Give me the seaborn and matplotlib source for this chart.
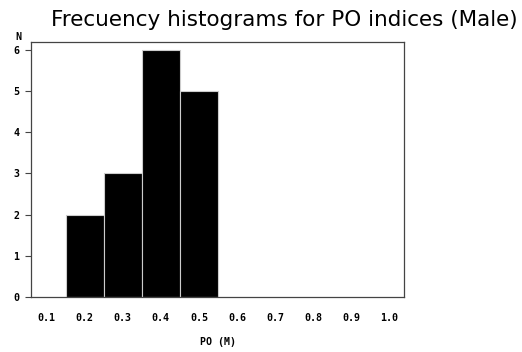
import matplotlib
matplotlib.use("Agg")
import matplotlib.pyplot as plt
import seaborn as sns

po_centers = [0.2, 0.3, 0.4, 0.5]
counts = [2, 3, 6, 5]
bin_edges = [0.15, 0.25, 0.35, 0.45, 0.55]
x_ticks = [0.1, 0.2, 0.3, 0.4, 0.5, 0.6, 0.7, 0.8, 0.9, 1.0]
y_ticks = [0, 1, 2, 3, 4, 5, 6]

sns.set_style("white")
fig = plt.figure(figsize=(5.22, 3.52), dpi=100)
ax = fig.add_axes([0.0588, 0.156, 0.716, 0.726])

sns.histplot(x=po_centers, weights=counts, bins=bin_edges, ax=ax,
             color="black", edgecolor="#cccccc", linewidth=0.8, alpha=1)

ax.set_xlim(0.058, 1.04)
ax.set_ylim(0, 6.2)
ax.set_xticks(x_ticks)
ax.set_xticklabels([f"{t:.1f}" for t in x_ticks], family="DejaVu Sans Mono",
                   fontsize=7.2, fontweight="bold", color="black")
ax.set_yticks(y_ticks)
ax.set_yticklabels([str(t) for t in y_ticks], family="DejaVu Sans Mono",
                   fontsize=7.2, fontweight="bold", color="black")
ax.tick_params(axis="x", length=0, pad=11.5)
ax.tick_params(axis="y", length=4, width=0.8, pad=4, direction="out", left=True, color="#444444")
ax.set_xlabel("PO (M)", family="DejaVu Sans Mono", fontsize=7.2, fontweight="bold",
              labelpad=10, color="black")
ax.set_ylabel("")
for s in ax.spines.values():
    s.set_color("#444444")
    s.set_linewidth(0.9)

fig.text(18/522, 1 - 37/352, "N", family="DejaVu Sans Mono", fontsize=7.2,
         fontweight="bold", ha="center", va="center", color="black")
fig.text(284/522, 1 - 20/352, "Frecuency histograms for PO indices (Male)",
         family="DejaVu Sans", fontsize=15.5, ha="center", va="center", color="black")

fig.savefig("out.png", dpi=100)
